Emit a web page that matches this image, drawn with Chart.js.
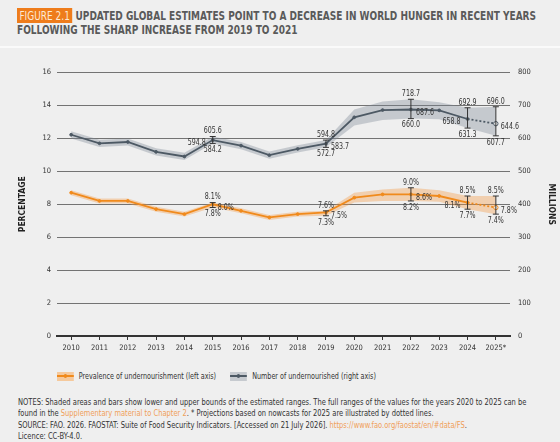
<!DOCTYPE html>
<html>
<head>
<meta charset="utf-8">
<script src="https://cdn.jsdelivr.net/npm/chart.js@4.4.1/dist/chart.umd.min.js"></script>
<style>
  html, body { margin: 0; padding: 0; background: #efefef; }
  body { width: 560px; height: 442px; position: relative; overflow: hidden;
         font-family: "Liberation Sans Narrow", "DejaVu Sans Condensed", sans-serif; color: #333; }
  #title { position: absolute; left: 17px; top: 9px; font-size: 12.5px; line-height: 14px;
           font-weight: bold; color: #5a5a5a; white-space: nowrap;
           transform: scaleX(0.8); transform-origin: left top; }
  #title .fig { background: #ee7c1b; color: #fde9d4; padding: 0 3px; font-weight: normal; margin-right: 4px; }
  #sep { position: absolute; left: 0; top: 46px; width: 560px; height: 2px; background: #fafafa; }
  #wrap { position: absolute; left: 0; top: 60px; width: 560px; height: 300px; }
  #legend { position: absolute; top: 371px; left: 57px; font-size: 8.5px; display: flex; align-items: center; color: #333;
            transform: scaleX(0.84); transform-origin: left top; white-space: nowrap; }
  .sw { position: relative; width: 20px; height: 9px; margin-right: 6px; }
  .sw i { position: absolute; left: 0; top: 3.5px; width: 20px; height: 2px; }
  .sw b { position: absolute; left: 8px; top: 2.5px; width: 4px; height: 4px; border-radius: 50%; }
  #notes { position: absolute; left: 18px; top: 397px; width: 572px; font-size: 8.3px; line-height: 11px; color: #333;
           transform: scaleX(0.9); transform-origin: left top; }
  #notes p { margin: 0; }
  #notes a { color: #f0a05a; text-decoration: none; }
</style>
</head>
<body>
<div id="title"><span class="fig">FIGURE 2.1</span>UPDATED GLOBAL ESTIMATES POINT TO A DECREASE IN WORLD HUNGER IN RECENT YEARS<br>FOLLOWING THE SHARP INCREASE FROM 2019 TO 2021</div>
<div id="sep"></div>
<div id="wrap"><canvas id="chart"></canvas></div>
<div id="legend">
  <div class="sw" style="background:#f5c99c"><i style="background:#f08a1c"></i><b style="background:#f08a1c"></b></div>
  <span style="margin-right:17px">Prevalence of undernourishment (left axis)</span>
  <div class="sw" style="background:#c6cacf"><i style="background:#4d5964"></i><b style="background:#4d5964"></b></div>
  <span>Number of undernourished (right axis)</span>
</div>
<div id="notes">
  <p>NOTES: Shaded areas and bars show lower and upper bounds of the estimated ranges. The full ranges of the values for the years 2020 to 2025 can be found in the <a>Supplementary material to Chapter 2</a>. * Projections based on nowcasts for 2025 are illustrated by dotted lines.</p>
  <p style="margin-top:1px">SOURCE: FAO. 2026. FAOSTAT: Suite of Food Security Indicators. [Accessed on 21 July 2026]. <a>https://www.fao.org/faostat/en/#data/FS</a>.<br>Licence: CC-BY-4.0.</p>
</div>
<script>
const FONT = '"Liberation Sans Narrow", "DejaVu Sans Condensed", sans-serif';

// anos (2025 = projeção)
const years = ['2010', '2011', '2012', '2013', '2014', '2015', '2016', '2017',
               '2018', '2019', '2020', '2021', '2022', '2023', '2024', '2025*'];

// prevalência de subnutrição (%), eixo esquerdo
const pou     = [8.7, 8.2, 8.2, 7.7, 7.4, 8.0, 7.6, 7.2, 7.4, 7.5, 8.4, 8.6, 8.6, 8.5, 8.1, 7.8];
const pouLow  = [8.55, 8.05, 8.05, 7.55, 7.25, 7.8, 7.45, 7.05, 7.25, 7.3, 8.1, 8.2, 8.2, 8.15, 7.7, 7.4];
const pouHigh = [8.85, 8.35, 8.35, 7.85, 7.55, 8.1, 7.75, 7.35, 7.55, 7.6, 8.7, 8.9, 9.0, 8.85, 8.5, 8.5];

// número de subnutridos (milhões), eixo direito
const nou     = [611, 585, 589, 559, 545, 594.8, 578, 549, 568, 583.7, 664, 686, 687.6, 685, 658.8, 644.6];
const nouLow  = [600, 574, 578, 548, 534, 584.2, 567, 538, 557, 572.7, 639, 656, 660.0, 658, 631.3, 607.7];
const nouHigh = [622, 596, 600, 570, 556, 605.6, 589, 560, 579, 594.8, 688, 712, 718.7, 710, 692.9, 696.0];

// anos com barras de erro e rótulos
const barYears = ['2015', '2019', '2022', '2024', '2025*'];

// lado do rótulo central (estilo, não dado)
const nouSide = ['left', 'right', 'right', 'left', 'right'];
const pouSide = ['right', 'right', 'right', 'left', 'right'];

const ORANGE = '#f08a1c';
const SLATE = '#4d5964';
const LAST = years.length - 1;

// texto comprimido na horizontal (fonte condensada)
function squeezed(ctx, txt, x, y, align, base) {
  ctx.save();
  ctx.translate(x, y);
  ctx.scale(0.78, 1);
  ctx.textAlign = align;
  ctx.textBaseline = base;
  ctx.fillText(txt, 0, 0);
  ctx.restore();
}

// barras de erro + rótulos
const errorBars = {
  id: 'errorBars',
  afterDatasetsDraw(chart) {
    const { ctx, scales } = chart;
    const x = scales.x, yL = scales.y, yR = scales.y1;
    ctx.save();
    ctx.font = '9px ' + FONT;
    ctx.fillStyle = '#333';
    ctx.strokeStyle = '#333';
    ctx.lineWidth = 1;
    const series = [
      { axis: yR, mid: nou, lo: nouLow, hi: nouHigh, fmt: v => v.toFixed(1), side: nouSide },
      { axis: yL, mid: pou, lo: pouLow, hi: pouHigh, fmt: v => v.toFixed(1) + '%', side: pouSide }
    ];
    series.forEach(s => {
      barYears.forEach((yr, k) => {
        const i = years.indexOf(yr);
        const px = x.getPixelForValue(i);
        const pTop = s.axis.getPixelForValue(s.hi[i]);
        const pBot = s.axis.getPixelForValue(s.lo[i]);
        const pMid = s.axis.getPixelForValue(s.mid[i]);
        ctx.beginPath();
        ctx.moveTo(px, pTop); ctx.lineTo(px, pBot);
        ctx.moveTo(px - 3, pTop); ctx.lineTo(px + 3, pTop);
        ctx.moveTo(px - 3, pBot); ctx.lineTo(px + 3, pBot);
        ctx.stroke();
        squeezed(ctx, s.fmt(s.hi[i]), px, pTop - 1, 'center', 'bottom');
        squeezed(ctx, s.fmt(s.lo[i]), px, pBot + 2, 'center', 'top');
        if (s.side[k] === 'left') {
          squeezed(ctx, s.fmt(s.mid[i]), px - 7, pMid + 3, 'right', 'middle');
        } else {
          squeezed(ctx, s.fmt(s.mid[i]), px + 5, pMid + 3, 'left', 'middle');
        }
      });
    });
    ctx.restore();
  }
};

const dotted = ctx => ctx.p1DataIndex === LAST ? [2, 2] : undefined;
const ptBg = c => years.map((_, i) => i === LAST ? '#efefef' : c);
const ptR = years.map((_, i) => i === LAST ? 2.2 : 1.4);

new Chart(document.getElementById('chart'), {
  type: 'line',
  data: {
    labels: years,
    datasets: [
      { data: nou, yAxisID: 'y1', borderColor: SLATE, borderWidth: 1.8, order: 0,
        pointRadius: ptR, pointBackgroundColor: ptBg(SLATE), pointBorderColor: SLATE, pointBorderWidth: 1,
        segment: { borderDash: dotted } },
      { data: pou, yAxisID: 'y', borderColor: ORANGE, borderWidth: 1.8, order: 0,
        pointRadius: ptR, pointBackgroundColor: ptBg(ORANGE), pointBorderColor: ORANGE, pointBorderWidth: 1,
        segment: { borderDash: dotted } },
      { data: nouHigh, yAxisID: 'y1', fill: '+1', backgroundColor: 'rgba(120,132,146,0.35)',
        borderWidth: 0, pointRadius: 0, order: 2 },
      { data: nouLow, yAxisID: 'y1', fill: false, borderWidth: 0, pointRadius: 0, order: 2 },
      { data: pouHigh, yAxisID: 'y', fill: '+1', backgroundColor: 'rgba(243,150,60,0.36)',
        borderWidth: 0, pointRadius: 0, order: 2 },
      { data: pouLow, yAxisID: 'y', fill: false, borderWidth: 0, pointRadius: 0, order: 2 }
    ]
  },
  options: {
    responsive: true,
    maintainAspectRatio: false,
    animation: false,
    layout: { padding: { top: 11, left: 0, right: 0, bottom: 0 } },
    plugins: { legend: { display: false }, tooltip: { enabled: false } },
    scales: {
      x: {
        offset: true,
        grid: { drawOnChartArea: false, drawTicks: true, tickLength: 4, color: '#333', offset: false },
        border: { display: true, color: '#333', width: 2 },
        ticks: { color: '#333', font: { family: FONT, size: 7.5 }, padding: 4, maxRotation: 0, autoSkip: false },
        afterFit: s => { s.height = 24; }
      },
      y: {
        position: 'left', min: 0, max: 16,
        ticks: { stepSize: 2, color: '#333', font: { family: FONT, size: 7.5 }, padding: 6 },
        grid: { color: '#737373', lineWidth: 1, drawTicks: false },
        border: { display: false },
        title: { display: true, text: 'PERCENTAGE', color: '#222',
                 font: { family: FONT, size: 8.5, weight: 'bold' }, padding: { top: 18, bottom: 0 } },
        afterFit: s => { s.width = 57; }
      },
      y1: {
        position: 'right', min: 0, max: 800,
        ticks: { stepSize: 100, color: '#333', font: { family: FONT, size: 7.5 }, padding: 8 },
        grid: { display: false, drawTicks: false },
        border: { display: false },
        title: { display: true, text: 'MILLIONS', color: '#222',
                 font: { family: FONT, size: 8.5, weight: 'bold' }, padding: { top: 4, bottom: 0 } },
        afterFit: s => { s.width = 50; }
      }
    }
  },
  plugins: [errorBars]
});
</script>
</body>
</html>
